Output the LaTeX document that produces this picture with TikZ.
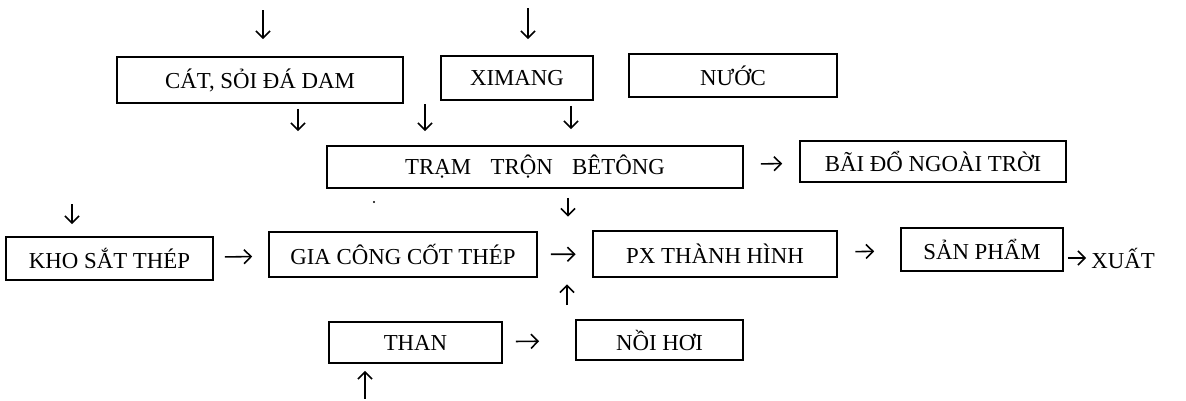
\documentclass[tikz,border=0pt]{standalone}
\usepackage{fontspec}
\setmainfont{Liberation Serif}
\usetikzlibrary{arrows.meta}

\begin{document}
\begin{tikzpicture}[x=0.02cm,y=-0.02cm,font=\fontsize{13}{15}\selectfont,
    box/.style={draw,line width=1pt,inner sep=0pt,minimum height=0.86cm},
    flow/.style={-{Straight Barb[length=4pt,width=8pt]},line width=0.9pt}]
    \useasboundingbox (0,0) rectangle (1186,400);
    % raw materials
    \node[box,minimum width=5.72cm,minimum height=0.92cm] (cat) at (260,80) {CÁT, SỎI ĐÁ DAM};
    \node[box,minimum width=3.04cm,minimum height=0.88cm] (ximang) at (517,78) {XIMANG};
    \node[box,minimum width=4.16cm] (nuoc) at (733,75.5) {NƯỚC};
    % mixing
    \node[box,minimum width=8.32cm,minimum height=0.84cm] (tram) at (535,167) {TRẠM\hspace{0.6em} TRỘN\hspace{0.6em} BÊTÔNG};
    \node[box,minimum width=5.32cm,minimum height=0.82cm] (bai) at (933,161.5) {BÃI ĐỔ NGOÀI TRỜI};
    % main line
    \node[box,minimum width=4.14cm] (kho) at (109.5,258.5) {KHO SẮT THÉP};
    \node[box,minimum width=5.36cm,minimum height=0.9cm] (gia) at (403,254.5) {GIA CÔNG CỐT THÉP};
    \node[box,line width=1.6pt,minimum width=4.88cm,minimum height=0.92cm] (px) at (715,254) {PX THÀNH HÌNH};
    \node[box,minimum width=3.24cm] (san) at (982,249.5) {SẢN PHẨM};
    \node[inner sep=0pt,anchor=west] (xuat) at (1091,258) {XUẤT};
    % steam
    \node[box,minimum width=3.46cm,minimum height=0.82cm] (than) at (415.5,342.5) {THAN};
    \node[box,minimum width=3.34cm,minimum height=0.8cm] (noi) at (659.5,340) {NỒI HƠI};
    \coordinate (catin) at (263,10);
    \coordinate (ximangin) at (528,8);
    \draw[flow,shorten >=0.34cm] (catin) -- (catin |- cat.north);
    \draw[flow,shorten >=0.32cm] (ximangin) -- (ximangin |- ximang.north);
    \draw[flow,shorten <=0.1cm,shorten >=0.28cm] ([xshift=0.76cm]cat.south) -- ([xshift=0.76cm]cat.south |- tram.north);
    \draw[flow] ([xshift=-2.2cm,yshift=0.82cm]tram.north) -- ([xshift=-2.2cm,yshift=0.28cm]tram.north);
    \draw[flow,shorten <=0.1cm,shorten >=0.32cm] ([xshift=1.08cm]ximang.south) -- ([xshift=1.08cm]ximang.south |- tram.north);
    \draw[flow,shorten <=0.34cm,shorten >=0.34cm] (tram) -- (bai);
    \draw[flow,shorten <=0.18cm,shorten >=0.26cm] ([xshift=0.66cm]tram.south) -- ([xshift=0.66cm]tram.south |- px.north);
    \fill (374,202) circle (1.2);
    \draw[flow] ([xshift=-0.75cm,yshift=0.64cm]kho.north) -- ([xshift=-0.75cm,yshift=0.24cm]kho.north);
    \draw[flow,shorten <=0.22cm,shorten >=0.32cm] (kho) -- (gia);
    \draw[flow,shorten <=0.26cm,shorten >=0.32cm] (gia) -- (px);
    \draw[flow,shorten <=0.34cm,shorten >=0.52cm] (px) -- (san);
    \draw[flow,shorten <=0.08cm,shorten >=0.1cm] (san.east |- xuat) -- (xuat);
    \draw[flow,shorten <=0.28cm,shorten >=0.12cm] ([xshift=-1.85cm]noi.north) -- ([xshift=-1.85cm]noi.north |- px.south);
    \draw[flow,shorten <=0.26cm,shorten >=0.72cm] (than) -- (noi);
    \draw[flow] ([xshift=-1.01cm,yshift=-0.7cm]than.south) -- ([xshift=-1.01cm,yshift=-0.14cm]than.south);
\end{tikzpicture}
\end{document}
